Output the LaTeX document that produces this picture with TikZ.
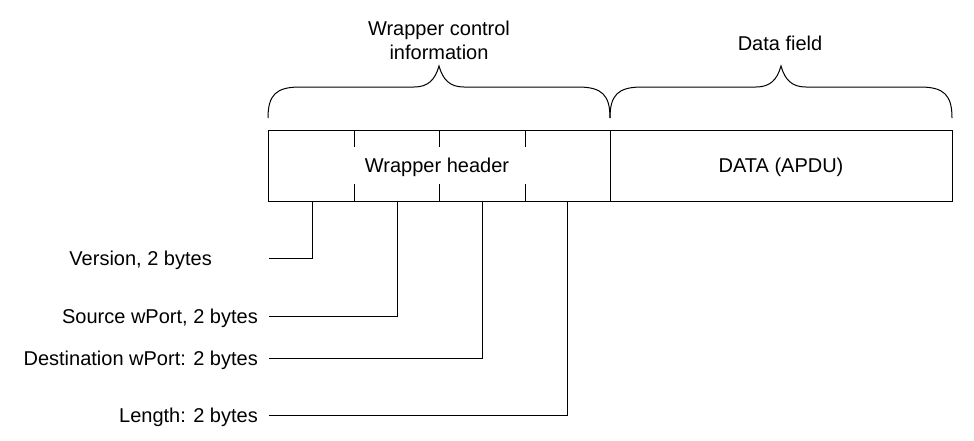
\documentclass[tikz,border=0pt]{standalone}
\usepackage{fontspec}
\setmainfont{Liberation Sans}
\begin{document}
\begin{tikzpicture}[x=1pt,y=-1pt,
  every node/.style={font=\fontsize{20}{24}\selectfont, inner sep=0pt},
  field/.style={draw, line width=1pt, minimum width=342pt, minimum height=71pt, anchor=center},
  lbl/.style={anchor=base east},
  conn/.style={line width=1pt},
  brace/.style={line width=1pt},
  tick/.style={line width=1pt}]
\useasboundingbox (0,0) rectangle (974,440);
% fields
\node[field] (hdr) at (439,165.5) {};
\node[field] (data) at (781,165.5) {};
\node[anchor=base] (hdrtxt) at (437,172.5) {Wrapper header};
\node[anchor=base] (datatxt) at (781,172.5) {DATA (APDU)};
% ticks
\foreach \x in {354,439,525}{
  \draw[tick] (\x,130) -- (\x,147);
  \draw[tick] (\x,184) -- (\x,201);
}
% braces
\draw[brace] (268,118) .. controls (268,95) and (276,87) .. (300,87) -- (414,87)
  .. controls (428,87) and (435,80) .. (439,66)
  .. controls (443,80) and (450,87) .. (464,87) -- (578,87)
  .. controls (602,87) and (610,95) .. (610,118);
\draw[brace] (610,118) .. controls (610,95) and (618,87) .. (642,87) -- (756,87)
  .. controls (770,87) and (777,80) .. (781,66)
  .. controls (785,80) and (792,87) .. (806,87) -- (920,87)
  .. controls (944,87) and (952,95) .. (952,118);
\node[anchor=base] (wci1) at (439,35) {Wrapper control};
\node[anchor=base] (wci2) at (439,59) {information};
\node[anchor=base] (df) at (780,50) {Data field};
% label nodes
\node[lbl] (ver) at (212,265.2) {Version, 2 bytes};
\node[lbl] (src) at (258,323.2) {Source wPort, 2 bytes};
\node[lbl] (dst) at (258,365.2) {Destination wPort: 2 bytes};
\node[lbl] (len) at (258,422.2) {Length: 2 bytes};
% connector coordinates
\coordinate (fv) at (312,201);
\coordinate (fs) at (397,201);
\coordinate (fd) at (482,201);
\coordinate (fl) at (567,201);
\coordinate (sv) at (269,258);
\coordinate (ss) at (269,316);
\coordinate (sd) at (269,358);
\coordinate (sl) at (269,415);
\draw[conn] (sv) -| (fv);
\draw[conn] (ss) -| (fs);
\draw[conn] (sd) -| (fd);
\draw[conn] (sl) -| (fl);
\end{tikzpicture}
\end{document}
